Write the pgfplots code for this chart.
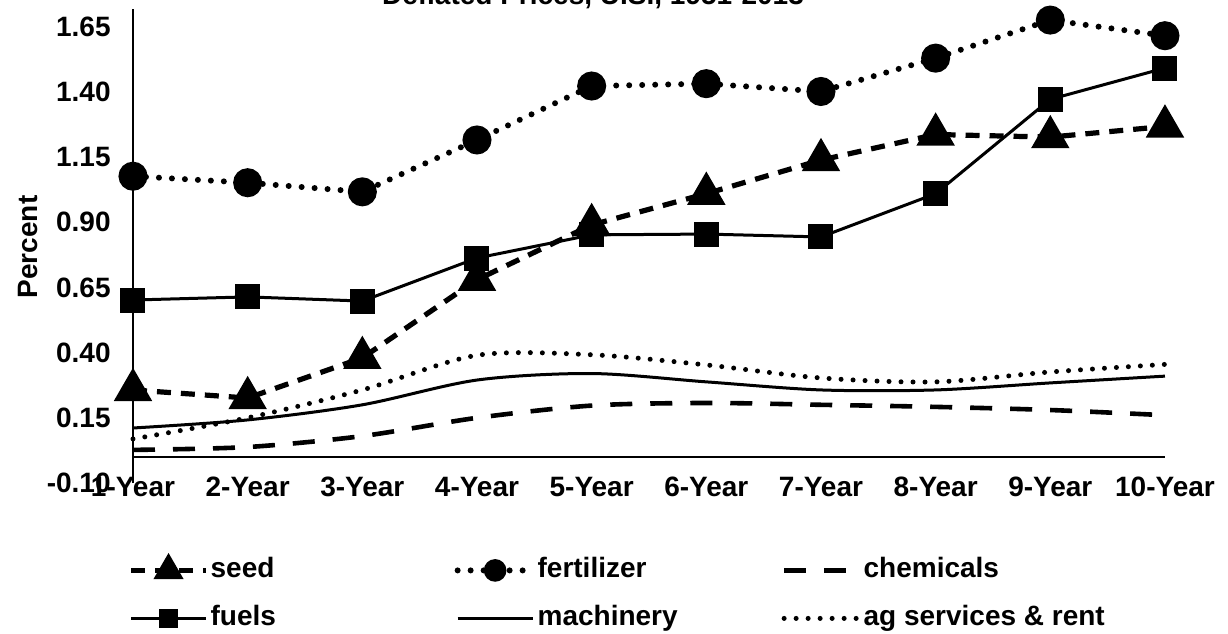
\documentclass[border=0pt]{standalone}
\usepackage{fontspec}
\setmainfont{Liberation Sans}
\usepackage{pgfplots}
\pgfplotsset{compat=1.18}
\usepackage{pgfplotstable}

\pgfplotstableread{
x seed fert chem fuels mach ag
0 0.257 1.077 0.027 0.602 0.111 0.069
1 0.226 1.052 0.038 0.614 0.142 0.150
2 0.380 1.017 0.080 0.598 0.200 0.257
3 0.680 1.216 0.150 0.763 0.295 0.390
4 0.890 1.423 0.197 0.852 0.320 0.392
5 1.010 1.432 0.207 0.855 0.288 0.353
6 1.139 1.402 0.200 0.844 0.257 0.303
7 1.237 1.530 0.192 1.010 0.257 0.288
8 1.227 1.676 0.180 1.372 0.284 0.326
9 1.268 1.616 0.160 1.492 0.310 0.355
}\datatable

\begin{document}
\begin{tikzpicture}[font=\fontsize{14}{16.8}\selectfont\bfseries]
\begin{axis}[
  at={(0,0)}, anchor=south west,
  scale only axis, width=516pt, height=237.2pt,
  xmin=0, xmax=9, ymin=-0.10, ymax=1.72,
  axis x line*=middle, axis y line*=left,
  axis line style={line width=1.2pt, black},
  xtick={0,1,2,3,4,5,6,7,8,9},
  xticklabels={1-Year,2-Year,3-Year,4-Year,5-Year,6-Year,7-Year,8-Year,9-Year,10-Year},
  ytick={-0.10,0.15,0.40,0.65,0.90,1.15,1.40,1.65},
  yticklabels={-0.10,0.15,0.40,0.65,0.90,1.15,1.40,1.65},
  major tick length=0pt,
  hide obscured x ticks=false, hide obscured y ticks=false,
  xticklabel style={anchor=base, inner sep=0pt, yshift=-20pt},
  yticklabel style={anchor=east, inner sep=0pt, xshift=-11pt},
  ylabel={Percent},
  every axis y label/.style={at={(axis description cs:-0.093,0.4975)}, rotate=90, anchor=base},
  clip=false,
  legend columns=3,
  legend cell align=left,
  legend style={draw=none, fill=none, inner xsep=0pt, inner ysep=0pt,
    at={(axis description cs:-0.0048,-0.1518)}, anchor=north west,
    nodes={inner sep=1pt, text height=10pt, text depth=3pt},
    row sep=9pt},
  legend image code/.code={\draw[#1,mark repeat=2,mark phase=2,mark options={solid,scale=0.72}] plot coordinates {(0pt,0pt) (18.75pt,0pt) (37.5pt,0pt)};},
]
\addplot[black, line width=2.6pt, dash pattern=on 7pt off 5pt, mark=triangle*, mark size=8.5pt, mark options={solid}] table[x=x,y=seed] {\datatable};
\addlegendentry{\makebox[121pt][l]{seed}}
\addplot[black, line width=3pt, line cap=round, dash pattern=on 0pt off 6.5pt, mark=*, mark size=5.75pt, mark options={solid}] table[x=x,y=fert] {\datatable};
\addlegendentry{\makebox[121pt][l]{fertilizer}}
\addplot[black, line width=2.3pt, dash pattern=on 11pt off 9pt, smooth] table[x=x,y=chem] {\datatable};
\addlegendentry{\makebox[121pt][l]{chemicals}}
\addplot[black, line width=1.5pt, mark=square*, mark size=5.5pt] table[x=x,y=fuels] {\datatable};
\addlegendentry{\makebox[121pt][l]{fuels}}
\addplot[black, line width=1.5pt, smooth] table[x=x,y=mach] {\datatable};
\addlegendentry{\makebox[121pt][l]{machinery}}
\addplot[black, line width=2.5pt, line cap=round, dash pattern=on 0pt off 6pt, smooth] table[x=x,y=ag] {\datatable};
\addlegendentry{\makebox[121pt][l]{ag services \& rent}}
\end{axis}
\node[anchor=base] at (230pt,239pt) {Deflated Prices, U.S., 1951-2013};
\pgfresetboundingbox
\useasboundingbox (-66.5pt,-75pt) rectangle (547.5pt,241.5pt);
\end{tikzpicture}
\end{document}
